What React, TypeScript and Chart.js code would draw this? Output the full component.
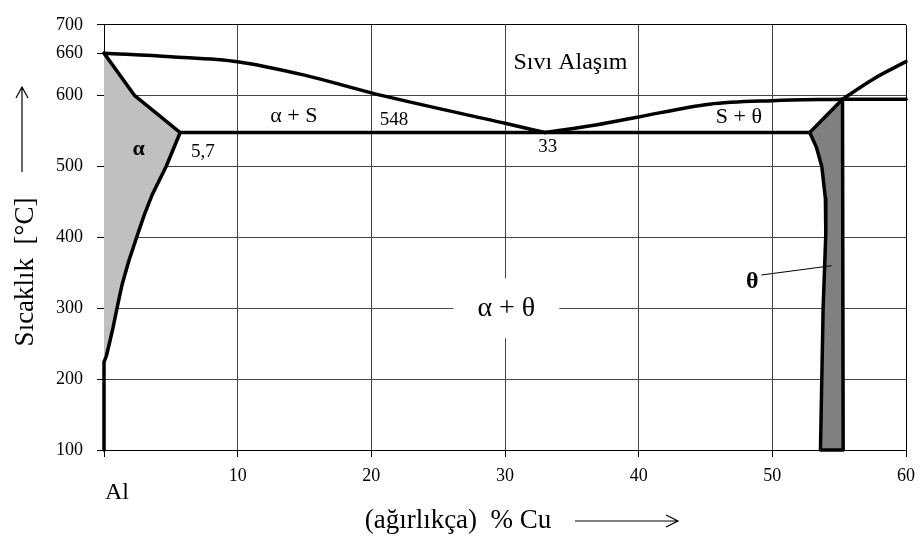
import React, { useEffect, useRef } from 'react';
import { Chart, registerables } from 'chart.js';

Chart.register(...registerables);

// ---- axis ticks ----
const xTickValues = [0, 10, 20, 30, 40, 50, 60];
const yTickValues = [100, 200, 300, 400, 500, 600, 660, 700];

// ---- phase boundaries (wt.% Cu, °C) ----
const liquidusAlX = [0, 5, 10, 15, 20, 30, 33];
const liquidusAlY = [660, 655, 648, 629, 604, 561, 548];
const liquidusMidX = [33, 36.9, 40, 45.3, 50, 55.25];
const liquidusMidY = [548, 559, 570, 588, 593, 595];
const liquidusCuX = [55.25, 57.6, 60];
const liquidusCuY = [595, 624, 648];

// solidus (660 → 548) then solvus (548 → 224) then Al edge down to 100
const alphaX = [0, 2.3, 5.7, 4.65, 3.6, 3.0, 2.44, 1.86, 1.36, 0.97, 0.68, 0.41, 0.18, 0, 0];
const alphaY = [660, 600, 548, 500, 460, 431, 400, 367, 334, 300, 273, 251, 233, 224, 100];

const eutecticX = [5.7, 52.8];
const eutecticY = [548, 548];
const peritecticX = [55.25, 60];
const peritecticY = [595, 595];

const thetaX = [52.8, 53.3, 53.7, 53.97, 54.0, 53.8, 53.6, 55.3, 55.25, 52.8];
const thetaY = [548, 527, 500, 455, 405, 300, 100, 100, 595, 548];

const leaderX = [49.2, 54.4];
const leaderY = [347, 360];

// ---- region / point labels ----
const labelTexts = ['Sıvı Alaşım', 'α + S', '548', '5,7', 'α', '33', 'S + θ', 'α + θ', 'θ'];
const labelX = [34.9, 14.2, 21.7, 7.4, 2.6, 33.2, 47.5, 30.1, 48.5];
const labelY = [646, 571, 565, 520, 525, 527, 569, 300, 338];
const labelSize = [24, 22, 19, 19, 22, 19, 22, 28, 24];
const labelBold = [false, false, false, false, true, false, false, false, true];

const FONT = '"Liberation Serif", "Times New Roman", serif';

const pts = (xs: number[], ys: number[]) => xs.map((x, i) => ({ x, y: ys[i] }));

const annotPlugin = {
  id: 'annot',
  afterDatasetsDraw(chart: any) {
    const { ctx, scales } = chart;
    const xs = scales.x;
    const ys = scales.y;
    ctx.save();
    ctx.fillStyle = '#000';
    ctx.textAlign = 'center';
    ctx.textBaseline = 'middle';
    labelTexts.forEach((t, i) => {
      const px = xs.getPixelForValue(labelX[i]);
      const py = ys.getPixelForValue(labelY[i]);
      ctx.font = `${labelBold[i] ? 'bold ' : ''}${labelSize[i]}px ${FONT}`;
      if (t === 'α + θ') {
        ctx.fillStyle = '#fff';
        ctx.fillRect(px - 53, py - 30, 106, 60);
        ctx.fillStyle = '#000';
      }
      ctx.fillText(t, px, py);
    });

    // "Al" under the left edge
    const x0 = xs.getPixelForValue(0);
    const area = chart.chartArea;
    ctx.font = `24px ${FONT}`;
    ctx.fillText('Al', x0 + 13, area.bottom + 43);

    // x axis title with arrow
    ctx.font = `27px ${FONT}`;
    ctx.fillText('(ağırlıkça)  % Cu', 458, 521);
    ctx.strokeStyle = '#000';
    ctx.lineWidth = 1.2;
    ctx.beginPath();
    ctx.moveTo(575, 521);
    ctx.lineTo(678, 521);
    ctx.moveTo(666, 515);
    ctx.lineTo(678, 521);
    ctx.lineTo(666, 527);
    ctx.stroke();

    // y axis title with arrow
    ctx.save();
    ctx.translate(26, 272);
    ctx.rotate(-Math.PI / 2);
    ctx.fillText('Sıcaklık  [°C]', 0, 0);
    ctx.restore();
    ctx.beginPath();
    ctx.moveTo(22, 172);
    ctx.lineTo(22, 87);
    ctx.moveTo(16, 98);
    ctx.lineTo(22, 87);
    ctx.lineTo(28, 98);
    ctx.stroke();
    ctx.restore();
  },
};

export default function App() {
  const ref = useRef<HTMLCanvasElement | null>(null);

  useEffect(() => {
    if (!ref.current) return;
    const thick = { borderColor: '#000', borderWidth: 3.5, pointRadius: 0, fill: false, tension: 0, clip: 6 };
    const chart = new Chart(ref.current, {
      type: 'line',
      data: {
        datasets: [
          { ...thick, data: pts(liquidusAlX, liquidusAlY), cubicInterpolationMode: 'monotone', tension: 0.4 },
          { ...thick, data: pts(liquidusMidX, liquidusMidY), cubicInterpolationMode: 'monotone', tension: 0.4 },
          { ...thick, data: pts(liquidusCuX, liquidusCuY), cubicInterpolationMode: 'monotone', tension: 0.4 },
          { ...thick, data: pts(eutecticX, eutecticY) },
          { ...thick, data: pts(peritecticX, peritecticY) },
          { ...thick, borderWidth: 1, data: pts(leaderX, leaderY) },
          { ...thick, data: pts(alphaX, alphaY), fill: 'shape', backgroundColor: '#c0c0c0' },
          { ...thick, data: pts(thetaX, thetaY), fill: 'shape', backgroundColor: '#808080' },
        ] as any,
      },
      options: {
        animation: false,
        responsive: false,
        maintainAspectRatio: false,
        devicePixelRatio: 1,
        layout: { padding: { top: 17, right: 14, left: 0, bottom: 0 } },
        plugins: { legend: { display: false }, tooltip: { enabled: false } },
        elements: { point: { radius: 0 }, line: { borderJoinStyle: 'round', borderCapStyle: 'round' } },
        scales: {
          x: {
            type: 'linear',
            min: 0,
            max: 60,
            afterBuildTicks: (s: any) => {
              s.ticks = xTickValues.map((v) => ({ value: v }));
            },
            afterFit: (s: any) => {
              s.height = 89;
            },
            ticks: {
              callback: (v: any) => (v === 0 ? '' : String(v)),
              color: '#000',
              font: { family: FONT, size: 18 },
              padding: 8,
              maxRotation: 0,
              autoSkip: false,
            },
            grid: {
              color: (c: any) => (c.tick && c.tick.value === 60 ? '#000' : '#444'),
              lineWidth: 1,
              tickLength: 7,
              tickColor: '#000',
            },
            border: { color: '#000', width: 1 },
          },
          y: {
            type: 'linear',
            min: 100,
            max: 700,
            afterBuildTicks: (s: any) => {
              s.ticks = yTickValues.map((v) => ({ value: v }));
            },
            afterFit: (s: any) => {
              s.width = 104;
            },
            ticks: {
              color: '#000',
              font: { family: FONT, size: 18 },
              padding: 14,
              autoSkip: false,
            },
            grid: {
              color: (c: any) =>
                c.tick && c.tick.value === 660 ? 'rgba(0,0,0,0)' : c.tick && c.tick.value === 700 ? '#000' : '#444',
              lineWidth: 1,
              tickLength: 7,
              tickColor: '#000',
            },
            border: { color: '#000', width: 1 },
          },
        },
      } as any,
      plugins: [annotPlugin],
    });
    return () => chart.destroy();
  }, []);

  return (
    <div style={{ position: 'absolute', left: 0, top: 0, width: 923, height: 539, background: '#fff' }}>
      <canvas ref={ref} width={923} height={539} style={{ display: 'block' }} />
    </div>
  );
}
